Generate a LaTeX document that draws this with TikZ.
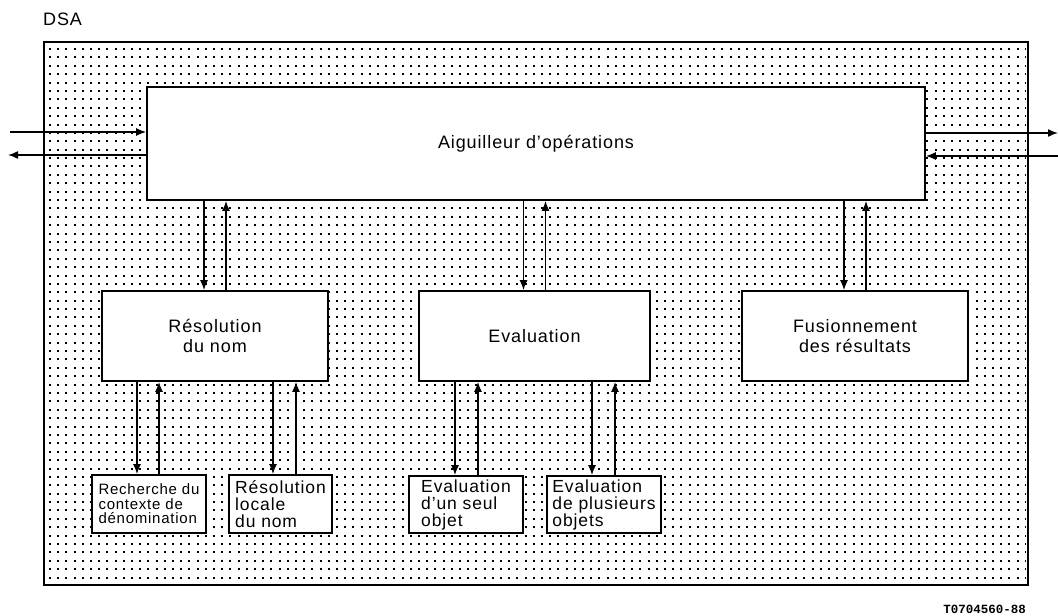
\documentclass[tikz,border=0pt]{standalone}
\usepackage{fontspec}
\setmainfont{Liberation Sans}[LetterSpace=5]
\newfontfamily\tagfont{Liberation Mono}
\usetikzlibrary{arrows.meta}
\begin{document}
\begin{tikzpicture}[x=1pt,y=-1pt,
  blk/.style={draw,line width=1.7pt,fill=white,inner sep=2pt},
  big/.style={font=\fontsize{18}{20}\selectfont,align=center},
  sub/.style={font=\fontsize{17.5}{17}\selectfont,align=left},
  arr/.style={line width=1.5pt,-{Latex[length=10pt,width=8pt]}},
  dotrow/.style={line width=2pt,dash pattern=on 2pt off 6.2pt}]
\useasboundingbox (0,0) rectangle (1058,616);

% stippled background of the DSA frame
\foreach \i in {0,...,63}
  \draw[dotrow] (49,{49+8.39*\i}) -- (1026,{49+8.39*\i});
\draw[line width=1.5pt] (44,42) rectangle (1028,585);

\node[font=\fontsize{18}{20}\selectfont,anchor=base west,inner sep=0] (dsa) at (43,25) {DSA};

% operation dispatcher
\node[blk,big,minimum width=778pt,minimum height=113pt] (top) at (536,143.5) {Aiguilleur d'opérations};

% second level
\node[blk,big,minimum width=226pt,minimum height=90pt] (res) at (215,336) {Résolution\\du nom};
\node[blk,big,minimum width=231pt,minimum height=90pt] (eva) at (534.5,336) {Evaluation};
\node[blk,big,minimum width=226pt,minimum height=90pt] (fus) at (855,336) {Fusionnement\\des résultats};

% third level
\node[blk,font=\fontsize{15}{14.5}\selectfont,align=left,minimum width=114pt,minimum height=58pt] (rec) at (149,504) {Recherche du\\contexte de\\dénomination};
\node[blk,sub,minimum width=103pt,minimum height=58pt] (loc) at (280.5,504) {Résolution\\locale\\du nom};
\node[blk,sub,minimum width=114pt,minimum height=57pt] (one) at (466,504.5) {Evaluation\\d'un seul\\objet};
\node[blk,sub,minimum width=114pt,minimum height=57pt] (many) at (604,504.5) {Evaluation\\de plusieurs\\objets};

% external interfaces
\coordinate (inL) at (10,132);
\coordinate (outL) at (8,155);
\coordinate (outR) at (1058,133);
\coordinate (inR) at (1058,156);
\draw[arr] (inL) -- (inL -| top.west);
\draw[arr] (outL -| top.west) -- (outL);
\draw[arr] (outR -| top.east) -- (outR);
\draw[arr] (inR) -- (inR -| top.east);

% dispatcher <-> second level
\foreach \n in {res,eva,fus}{
  \draw[arr] ([xshift=-11pt]\n.north |- top.south) -- ([xshift=-11pt]\n.north);
  \draw[arr] ([xshift=11pt]\n.north) -- ([xshift=11pt]\n.north |- top.south);
}

% second level <-> third level
\draw[arr] ([xshift=-12pt]rec.north |- res.south) -- ([xshift=-12pt]rec.north);
\draw[arr] ([xshift=10pt]rec.north) -- ([xshift=10pt]rec.north |- res.south);
\draw[arr] ([xshift=-7.5pt]loc.north |- res.south) -- ([xshift=-7.5pt]loc.north);
\draw[arr] ([xshift=15.5pt]loc.north) -- ([xshift=15.5pt]loc.north |- res.south);
\draw[arr] ([xshift=-11pt]one.north |- eva.south) -- ([xshift=-11pt]one.north);
\draw[arr] ([xshift=12pt]one.north) -- ([xshift=12pt]one.north |- eva.south);
\draw[arr] ([xshift=-12pt]many.north |- eva.south) -- ([xshift=-12pt]many.north);
\draw[arr] ([xshift=11pt]many.north) -- ([xshift=11pt]many.north |- eva.south);

\node[font=\tagfont\bfseries\fontsize{12.5}{14}\selectfont,anchor=base east,inner sep=0] (tag) at (1026,613) {T0704560-88};
\end{tikzpicture}
\end{document}
